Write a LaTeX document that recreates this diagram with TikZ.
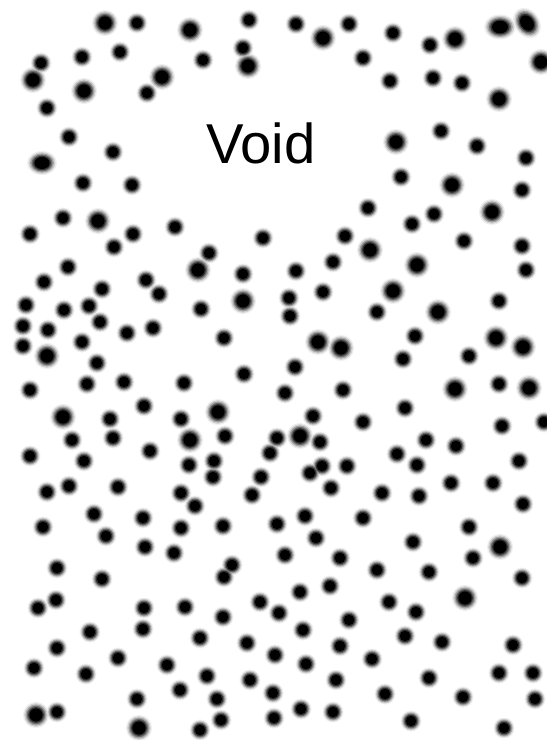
\documentclass[tikz,border=0pt]{standalone}
\usepackage{fontspec}
\setmainfont{Liberation Sans}
% dot centres (pixel grid), third value = size
\def\dotlist{137/23/1,120/52/1,82/57/1,41/63/1,147/93/1,47/108/1,69/137/1,113/152/1,83/183/1,132/185/1,
    249/20/1,296/24/1,349/24/1,243/48/1,203/60/1,363/58/1,
    393/33/1,430/45/1,390/81/1,433/78/1,462/83/1,441/131/1,477/146/1,526/158/1,401/177/1,522/190/1,
    30/234/1,63/218/1,133/234/1,175/227/1,114/247/1,68/267/1,44/282/1,146/280/1,102/289/1,159/294/1,26/305/1,64/310/1,89/306/1,
    23/326/1,48/330/1,100/322/1,127/333/1,153/328/1,23/346/1,82/342/1,97/363/1,
    263/238/1,209/253/1,243/274/1,296/271/1,345/236/1,368/208/1,333/262/1,323/292/1,289/298/1,290/316/1,201/309/1,224/338/1,295/367/1,244/374/1,
    434/214/1,412/224/1,464/241/1,522/246/1,526/270/1,499/301/1,377/312/1,415/336/1,403/359/1,469/356/1,
    30/390/1,87/384/1,124/382/1,144/406/1,110/419/1,72/440/1,113/438/1,30/456/1,84/461/1,150/451/1,47/492/1,69/486/1,118/487/1,
    94/514/1,43/527/1,143/518/1,106/536/1,145/547/1,181/419/1,181/493/1,181/528/1,174/553/1,
    184/383/1,285/393/1,343/390/1,313/416/1,363/422/1,225/436/1,277/438/1,320/442/1,270/453/1,189/465/1,214/461/1,213/477/1,261/477/1,
    310/473/1,322/466/1,347/466/1,331/488/1,252/495/1,195/506/1,305/516/1,223/526/1,277/524/1,363/518/1,316/538/1,285/555/1,340/558/1,
    499/384/1,405/408/1,502/426/1,544/422/1,426/440/1,456/446/1,397/454/1,417/465/1,519/461/1,451/483/1,493/483/1,382/493/1,419/496/1,
    523/504/1,469/527/1,413/542/1,473/558/1,
    57/568/1,102/579/1,56/600/1,38/608/1,144/608/1,185/607/1,143/629/1,90/632/1,57/648/1,118/658/1,167/665/1,34/668/1,86/674/1,180/690/1,137/699/1,57/712/1,
    232/565/1,224/577/1,300/592/1,330/586/1,260/602/1,279/613/1,223/617/1,349/620/1,303/630/1,200/638/1,247/643/1,340/646/1,275/655/1,306/664/1,
    372/659/1,207/676/1,250/680/1,336/680/1,273/693/1,217/699/1,301/709/1,333/712/1,221/720/1,274/718/1,200/730/1,
    377/570/1,429/572/1,522/578/1,389/602/1,416/612/1,405/636/1,442/642/1,513/645/1,429/678/1,499/673/1,533/673/1,385/694/1,463/697/1,535/699/1,411/721/1,504/728/1,
    105/23/1.25,33/80/1.25,162/77/1.25,84/91/1.25,190/30/1.25,323/38/1.25,248/66/1.25,455/39/1.25,541/62/1.25,499/99/1.25,396/142/1.25,452/185/1.25,98/221/1.25,47/356/1.25,
    198/270/1.25,243/301/1.25,318/342/1.25,341/348/1.25,370/250/1.25,492/212/1.25,417/265/1.25,393/291/1.25,438/312/1.25,496/338/1.25,523/347/1.25,63/417/1.25,455/389/1.25,529/388/1.25,
    218/412/1.25,190/440/1.25,300/436/1.25,500/547/1.25,36/715/1.25,139/728/1.25,465/598/1.25}
\begin{document}
\begin{tikzpicture}[x=0.02cm, y=-0.02cm,
    voidlabel/.style={font=\fontsize{32}{38}\selectfont, inner sep=0pt}]
    \useasboundingbox[fill=white] (0,0) rectangle (547,740);
    % blurred dots, drawn ring by ring from faint to dark
    \foreach \r/\c in {1.0/6, 0.9/18, 0.8/36, 0.7/58, 0.6/80, 0.5/100} {
        \foreach \x/\y/\s in \dotlist
            \fill[black!\c] (\x,\y) circle ({0.21cm*\r*\s});
        \fill[black!\c] (42,163) ellipse ({0.3cm*\r} and {0.24cm*\r});
        \fill[black!\c] (500,27) ellipse ({0.32cm*\r} and {0.25cm*\r});
        \fill[black!\c, rotate around={-55:(527,23)}] (527,23) ellipse ({0.33cm*\r} and {0.25cm*\r});
    }
    \node[voidlabel] (void) at (261,143) {Void};
\end{tikzpicture}
\end{document}
